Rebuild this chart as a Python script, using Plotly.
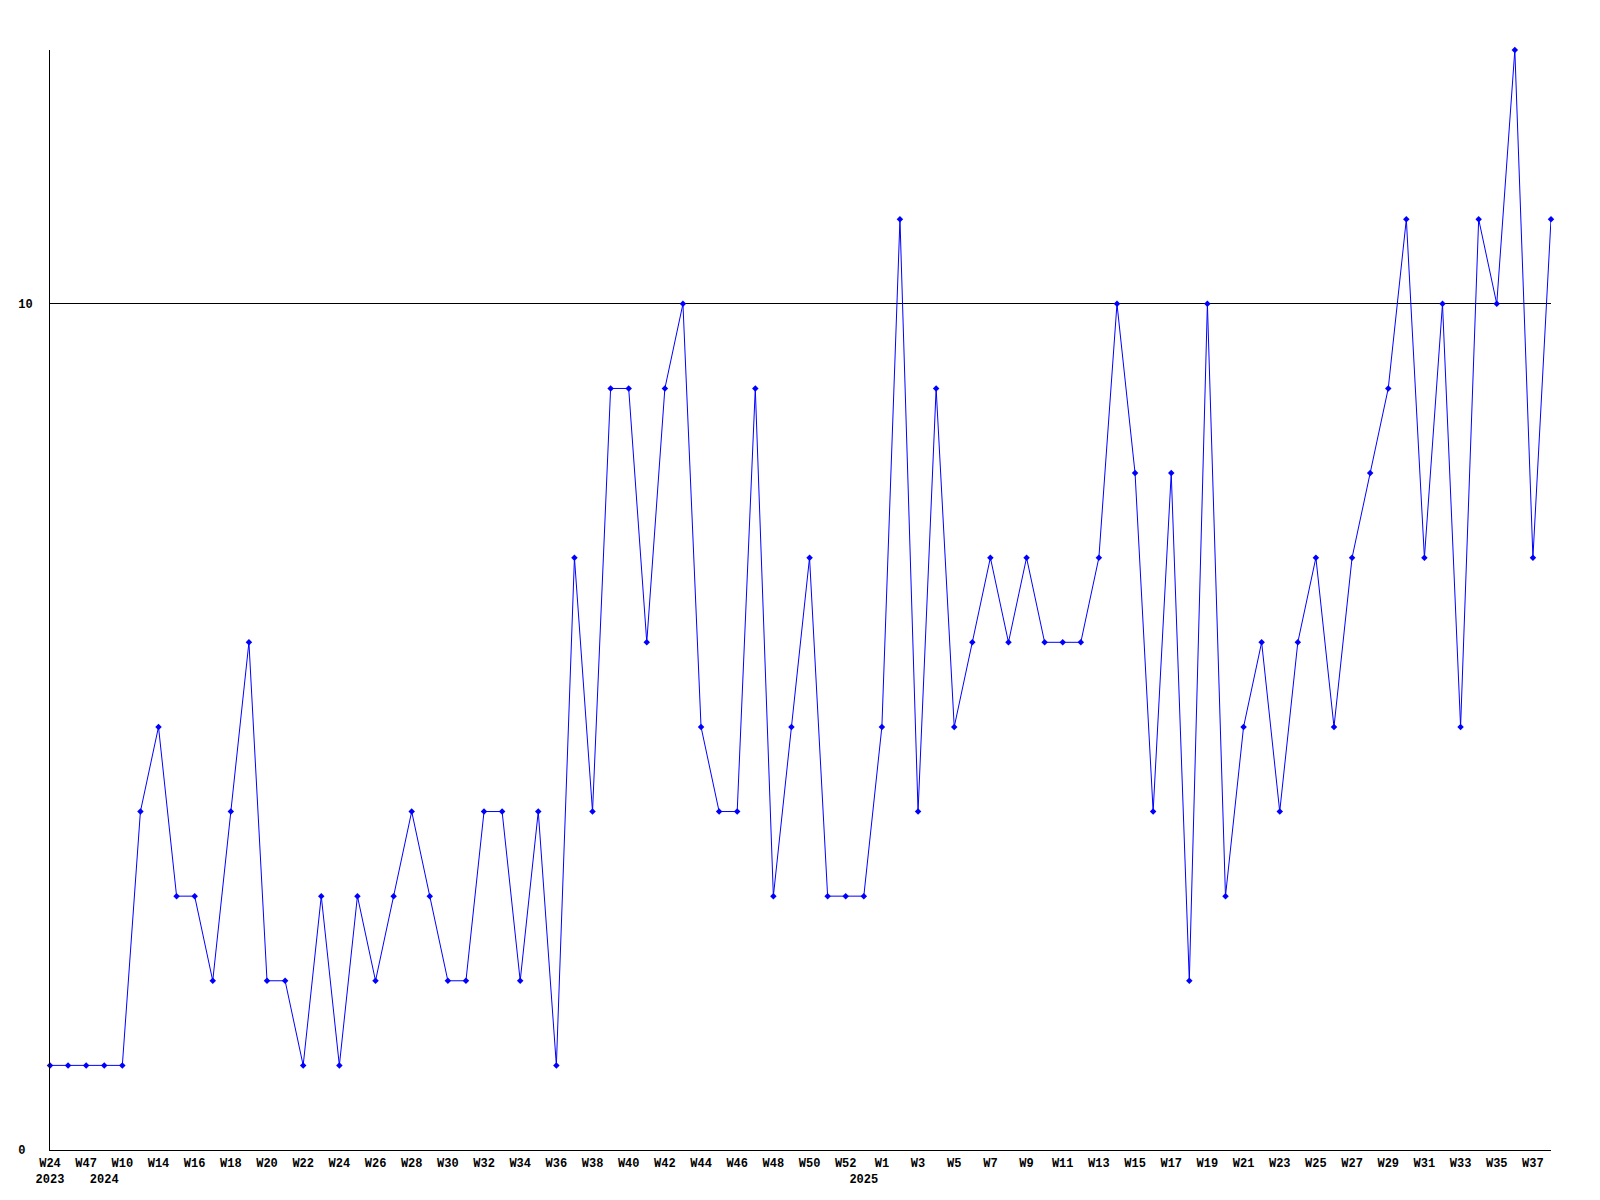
import plotly.graph_objects as go

# weekly counts, one point per week
weeks = ["W24", "W30", "W47", "W1", "W10", "W12",
         "W14", "W15", "W16", "W17", "W18", "W19", "W20", "W21", "W22", "W23",
         "W24", "W25", "W26", "W27", "W28", "W29", "W30", "W31", "W32", "W33",
         "W34", "W35", "W36", "W37", "W38", "W39", "W40", "W41", "W42", "W43",
         "W44", "W45", "W46", "W47", "W48", "W49", "W50", "W51", "W52",
         "W0", "W1", "W2", "W3", "W4", "W5", "W6", "W7", "W8", "W9", "W10",
         "W11", "W12", "W13", "W14", "W15", "W16", "W17", "W18", "W19", "W20",
         "W21", "W22", "W23", "W24", "W25", "W26", "W27", "W28", "W29", "W30",
         "W31", "W32", "W33", "W34", "W35", "W36", "W37", "W38"]
years = [2023] * 3 + [2024] * 42 + [2025] * 39
counts = [1, 1, 1, 1, 1, 4, 5, 3, 3, 2, 4, 6, 2, 2, 1, 3, 1, 3, 2, 3,
          4, 3, 2, 2, 4, 4, 2, 4, 1, 7, 4, 9, 9, 6, 9, 10, 5, 4, 4, 9,
          3, 5, 7, 3, 3, 3, 5, 11, 4, 9, 5, 6, 7, 6, 7, 6, 6, 6, 7, 10,
          8, 4, 8, 2, 10, 3, 5, 6, 4, 6, 7, 5, 7, 8, 9, 11, 7, 10, 5, 11,
          10, 13, 7, 11]

idx = list(range(len(counts)))

# every second week label, year under the first week of each year
ticktext = []
for i in idx:
    wk = weeks[i] if i % 2 == 0 else " "
    if i == 0 or years[i] != years[i - 1]:
        ticktext.append(f"{wk}<br>{years[i]}")
    else:
        ticktext.append(wk)

fig = go.Figure()
fig.add_trace(go.Scatter(
    x=idx,
    y=counts,
    mode="lines+markers",
    line=dict(color="#0000ff", width=1),
    marker=dict(symbol="diamond", size=5, color="#0000ff"),
    showlegend=False,
    cliponaxis=False,
))

# page body adds 8px, so the figure is a bit smaller than the window
fig.update_layout(
    width=1592,
    height=1192,
    margin=dict(l=42, r=49, t=42, b=50, autoexpand=False),
    paper_bgcolor="white",
    plot_bgcolor="white",
    font=dict(family="Liberation Mono", size=12, color="black", weight="bold"),
    xaxis=dict(
        range=[0, len(counts) - 1],
        tickmode="array",
        tickvals=idx,
        ticktext=ticktext,
        showgrid=False,
        zeroline=False,
        showline=True,
        linecolor="black",
        linewidth=1,
        ticks="",
        tickangle=0,
        ticklabelstandoff=2,
        automargin=False,
    ),
    yaxis=dict(
        range=[0, 13],
        tickmode="array",
        tickvals=[0, 10],
        ticktext=["0\u00a0", "10"],
        showgrid=True,
        gridcolor="black",
        gridwidth=1,
        zeroline=False,
        showline=True,
        linecolor="black",
        linewidth=1,
        ticks="",
        ticklabelstandoff=14,
        automargin=False,
    ),
)

fig.write_html("out.html")
